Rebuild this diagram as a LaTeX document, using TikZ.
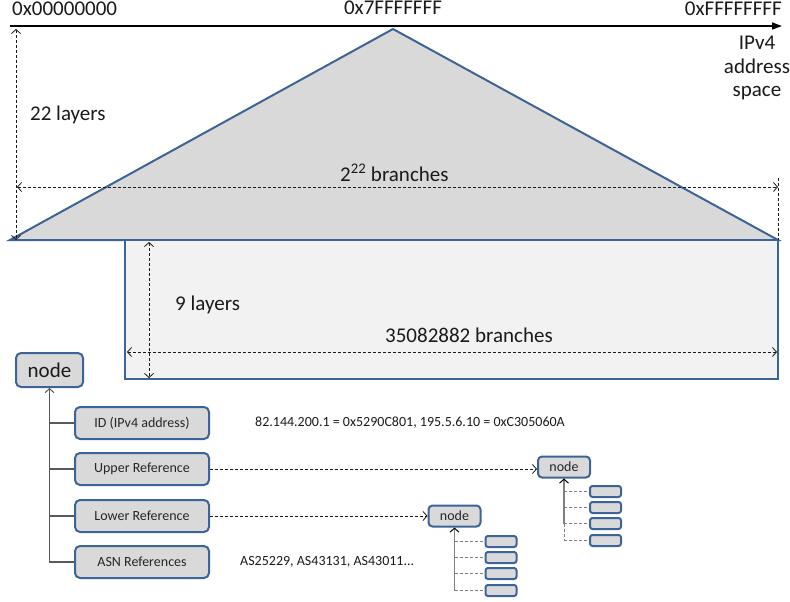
\documentclass[tikz,border=0pt]{standalone}
\usepackage{fontspec}
\setmainfont{Carlito}
\usetikzlibrary{arrows.meta}
\definecolor{edgeblue}{HTML}{3D6497}
\definecolor{boxgray}{HTML}{D9D9D9}
\definecolor{pale}{HTML}{F2F2F2}
\definecolor{ink}{HTML}{1A1A1A}
\definecolor{treegray}{HTML}{595959}
\definecolor{twiggray}{HTML}{7F7F7F}
\tikzset{
  bigtext/.style={font=\fontsize{21}{25}\selectfont, text=ink, inner sep=0pt},
  smalltext/.style={font=\fontsize{14}{16}\selectfont, text=ink, inner sep=0pt},
  barb/.tip={Straight Barb[length=4pt,width=9pt,line width=0.8pt]},
  dimline/.style={draw=ink, line width=0.8pt, dash pattern=on 3pt off 2pt},
  dimarrow/.style={dimline, barb-barb},
  blockshape/.style={draw=edgeblue, line width=2pt, line join=miter},
  rootbox/.style={draw=edgeblue, fill=boxgray, line width=2pt, rounded corners=5pt,
    minimum width=67pt, minimum height=34pt, bigtext},
  fieldbox/.style={draw=edgeblue, fill=boxgray, line width=2pt, rounded corners=5pt,
    minimum width=134pt, minimum height=32pt, smalltext, text=black!85},
  refbox/.style={draw=edgeblue, fill=boxgray, line width=2pt, rounded corners=4pt,
    minimum width=52pt, minimum height=21pt, smalltext, text=black!85},
  leafbox/.style={draw=edgeblue, fill=boxgray, line width=2pt, rounded corners=2.5pt,
    minimum width=31pt, minimum height=11pt, inner sep=0pt},
  treeline/.style={draw=treegray, line width=1.2pt},
  twig/.style={draw=twiggray, line width=1pt, dash pattern=on 3pt off 2pt},
}
\begin{document}
\begin{tikzpicture}[x=1pt, y=-1pt]
\useasboundingbox (0,0) rectangle (790,602);

% address axis
\coordinate (axl) at (10,26);
\coordinate (axr) at (782,26);
\draw[line width=1.5pt, draw=black, -{Triangle[length=10pt,width=7pt]}] (axl) -- (axr);
\node[bigtext, anchor=base west] (lo) at (12,16) {0x00000000};
\node[bigtext, anchor=base] (mid) at (393,15) {0x7FFFFFFF};
\node[bigtext, anchor=base east] (hi) at (782,16) {0xFFFFFFFF};
\node[bigtext, anchor=north, align=center, font=\fontsize{21}{23.5}\selectfont] (space) at (757,36)
  {IPv4\\address\\space};

% upper tree: triangle, then the lower block
\coordinate (tl) at (10,240);
\coordinate (apex) at (393,29);
\coordinate (tr) at (778,240);
\filldraw[blockshape, fill=boxgray] (tl) -- (apex) -- (tr) -- cycle;
\coordinate (bl) at (125,240);
\coordinate (br) at (778,379);
\filldraw[blockshape, fill=pale] (bl) rectangle (br);

% dimensions of the triangle
\coordinate (d1a) at (16,29);
\coordinate (d1b) at (16,240);
\draw[dimarrow] (d1a) -- (d1b);
\node[bigtext, anchor=base west] (l22) at (30,121) {22 layers};
\coordinate (d2a) at (17,187);
\coordinate (d2b) at (778,187);
\coordinate (d2c) at (778,178);
\draw[dimarrow] (d2a) -- (d2b);
\draw[dimline] (d2c) -- (tr);
\node[bigtext, anchor=base west] (b22) at (340,181) {2\textsuperscript{22} branches};

% dimensions of the block
\coordinate (d3a) at (149,242);
\coordinate (d3b) at (149,378);
\draw[dimarrow] (d3a) -- (d3b);
\node[bigtext, anchor=base west] (l9) at (175,310) {9 layers};
\coordinate (d4a) at (127,352);
\coordinate (d4b) at (777,352);
\draw[dimarrow] (d4a) -- (d4b);
\node[bigtext, anchor=base west] (bcnt) at (385,342) {35082882 branches};

% node structure
\node[rootbox] (root) at (49.5,370) {node};
\node[fieldbox] (f1) at (142,423) {ID (IPv4 address)};
\node[fieldbox] (f2) at (142,469) {Upper Reference};
\node[fieldbox] (f3) at (142,516) {Lower Reference};
\node[fieldbox] (f4) at (142,562) {ASN References};
\draw[treeline, {Straight Barb[length=4pt,width=9pt,line width=1pt]}-] (root.south) -- (root.south |- f4.west) -- (f4.west);
\foreach \f in {f1,f2,f3} \draw[treeline] (root.south |- \f.west) -- (\f.west);

\node[smalltext, anchor=west] (idval) at (255,423) {82.144.200.1 = 0x5290C801, 195.5.6.10 = 0xC305060A};
\node[smalltext, anchor=west] (asval) at (240,562) {AS25229, AS43131, AS43011...};

% referenced nodes
\node[refbox] (n2) at (564,467) {node};
\node[refbox] (n3) at (454.5,516) {node};
\draw[dimline, -barb] (f2.east) -- (f2.east -| n2.west);
\draw[dimline, -barb] (f3.east) -- (n3.west);

% children of the upper reference node
\foreach \i/\y in {1/491.5, 2/507.5, 3/523.5, 4/540.5}
  \node[leafbox] (u\i) at (605.5,\y) {};
\draw[draw=twiggray, line width=1.2pt, {Straight Barb[length=4pt,width=9pt,line width=1pt,color=black]}-] (n2.south) -- (n2.south |- u3.west);
\draw[twig] (n2.south |- u3.west) -- (n2.south |- u4.west);
\foreach \i in {1,...,4} \draw[twig] (n2.south |- u\i.west) -- (u\i.west);

% children of the lower reference node
\foreach \i/\y in {1/541.5, 2/557.5, 3/573.5, 4/590.5}
  \node[leafbox] (w\i) at (501,\y) {};
\draw[draw=twiggray, line width=1.2pt, {Straight Barb[length=4pt,width=9pt,line width=1pt,color=black]}-] (n3.south) -- (n3.south |- w4.west);
\foreach \i in {1,...,4} \draw[twig] (n3.south |- w\i.west) -- (w\i.west);
\end{tikzpicture}
\end{document}
